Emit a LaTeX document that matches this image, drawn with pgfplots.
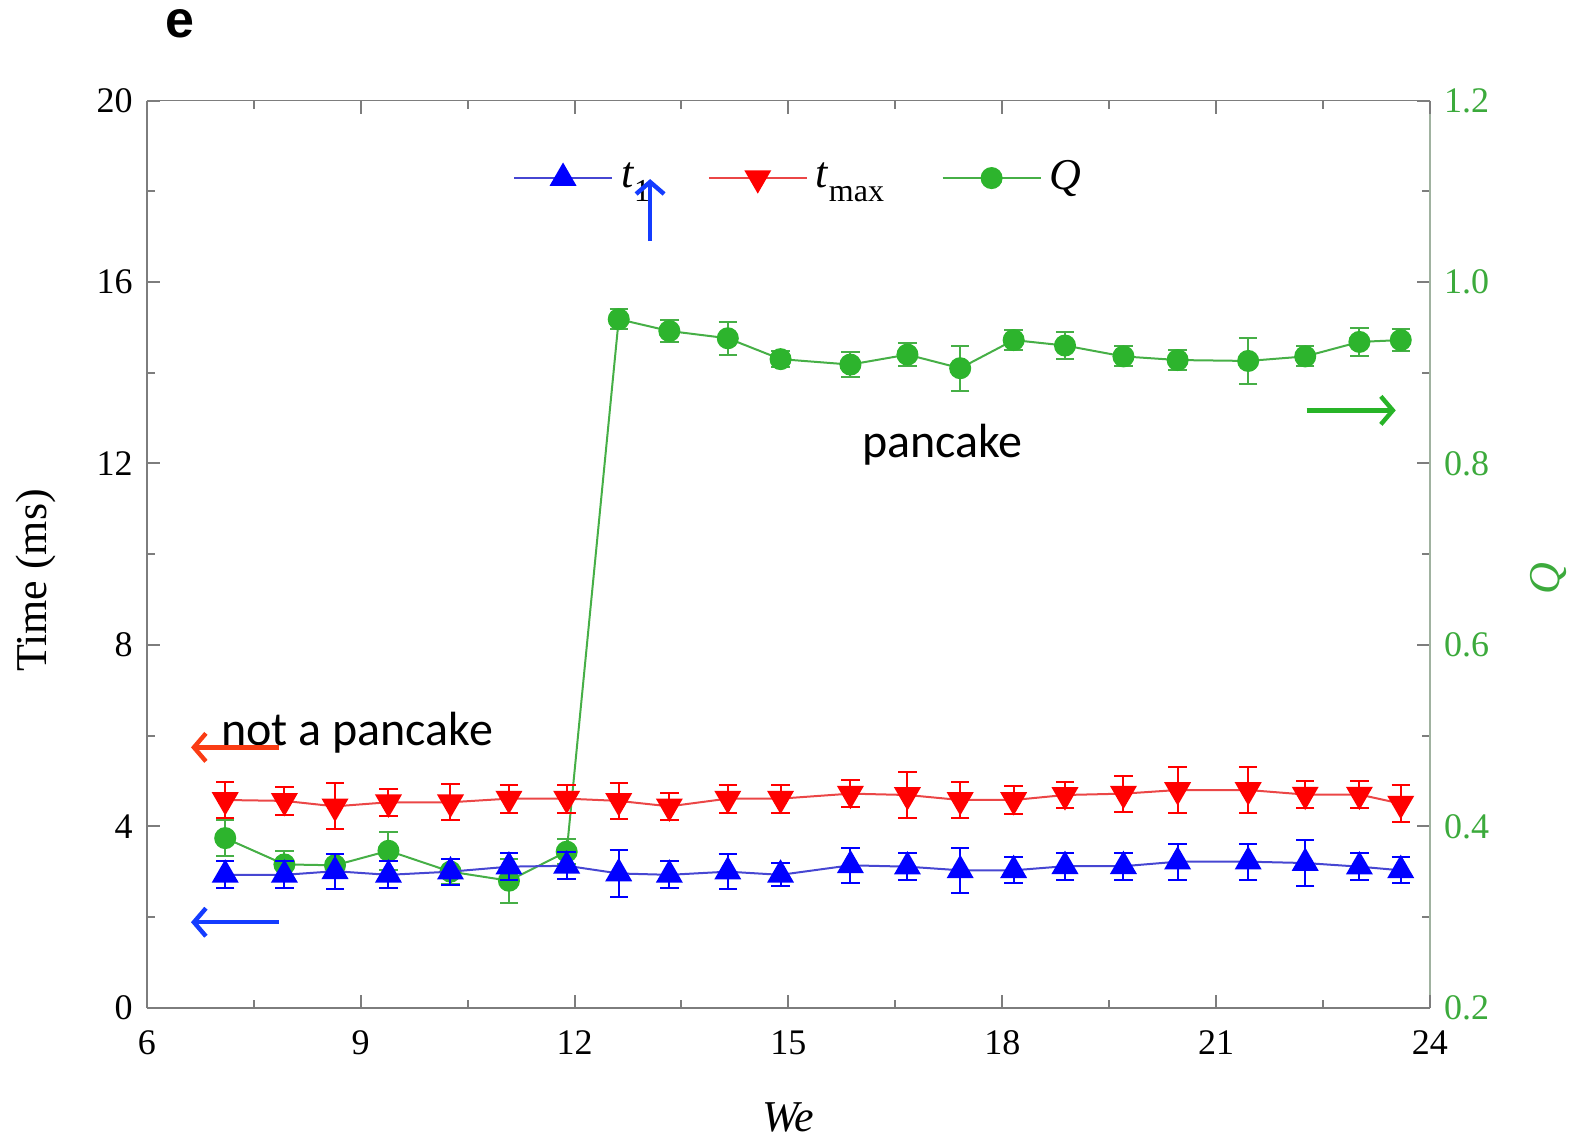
\documentclass[border=0pt]{standalone}
\usepackage{pgfplots}
\pgfplotsset{compat=1.18}
\usepackage{pgfplotstable}
\usepackage{fontspec}
\setmainfont{Liberation Serif}
\newfontfamily\calibri{Carlito}
\newfontfamily\arialfont{Liberation Sans}
\usetikzlibrary{arrows.meta}

\definecolor{tblue}{RGB}{0,0,255}
\definecolor{tblueline}{RGB}{70,70,210}
\definecolor{tred}{RGB}{255,0,0}
\definecolor{tredline}{RGB}{235,70,70}
\definecolor{qgreen}{RGB}{45,180,45}
\definecolor{qline}{RGB}{70,175,70}
\definecolor{qtext}{RGB}{60,170,60}
\definecolor{qframe}{RGB}{160,178,160}
\definecolor{framegray}{RGB}{125,125,125}
\definecolor{annred}{RGB}{250,60,20}
\definecolor{annblue}{RGB}{20,60,255}
\definecolor{anngreen}{RGB}{40,180,40}

% We, t1, error, tmax, error
\pgfplotstableread{
x     t1   t1e  tmax tmaxe
7.10  2.93 0.30 4.58 0.40
7.93  2.93 0.30 4.56 0.30
8.64  3.01 0.39 4.44 0.51
9.39  2.93 0.30 4.53 0.30
10.26 3.00 0.29 4.53 0.40
11.08 3.11 0.30 4.61 0.31
11.89 3.13 0.30 4.61 0.31
12.62 2.96 0.51 4.56 0.40
13.33 2.93 0.30 4.44 0.30
14.15 3.00 0.39 4.61 0.31
14.89 2.93 0.25 4.61 0.31
15.87 3.14 0.39 4.72 0.29
16.67 3.11 0.30 4.69 0.50
17.41 3.03 0.50 4.58 0.40
18.16 3.03 0.29 4.58 0.31
18.88 3.12 0.30 4.69 0.29
19.70 3.12 0.30 4.72 0.40
20.46 3.22 0.40 4.80 0.50
21.45 3.22 0.40 4.80 0.50
22.25 3.19 0.50 4.70 0.29
23.01 3.11 0.30 4.70 0.29
23.59 3.03 0.29 4.50 0.40
}\timedata

% We, Q, error
\pgfplotstableread{
x     q     qe
7.10  0.387 0.020
7.93  0.358 0.015
8.64  0.357 0.012
9.39  0.373 0.021
10.26 0.350 0.014
11.08 0.340 0.024
11.89 0.372 0.014
12.62 0.959 0.011
13.33 0.946 0.012
14.15 0.938 0.018
14.89 0.915 0.009
15.87 0.909 0.014
16.67 0.920 0.013
17.41 0.905 0.025
18.16 0.936 0.011
18.88 0.930 0.015
19.70 0.918 0.011
20.46 0.914 0.011
21.45 0.913 0.025
22.25 0.918 0.011
23.01 0.934 0.015
23.59 0.936 0.012
}\qdata

\begin{document}
\begin{tikzpicture}
\pgfplotsset{
  base/.style={
    scale only axis, width=320.75pt, height=226.75pt,
    xmin=6, xmax=24,
    tick align=inside,
    major tick length=3.3pt, minor tick length=2pt,
    tick label style={font=\fontsize{9}{10}\selectfont},
    /pgf/number format/assume math mode=true,
    label style={font=\fontsize{11}{12}\selectfont},
  },
}

% right axis: Q (drawn first so that the triangles sit on top)
\begin{axis}[
  base,
  ymin=0.2, ymax=1.2,
  axis x line=none, axis y line*=right,
  y axis line style={qframe, -},
  ytick={0.2,0.4,0.6,0.8,1.0,1.2},
  minor y tick num=1,
  every tick/.style={framegray, line width=0.5pt},
  yticklabel style={qtext, /pgf/number format/.cd, fixed, fixed zerofill, precision=1},
  ylabel={\textit{Q}},
  ylabel style={qtext, at={(axis description cs:1.092,0.473)}, anchor=center},
]
\addplot[qline, line width=0.5pt, mark=*, mark size=2.5pt,
  mark options={fill=qgreen, draw=qgreen, solid},
  error bars/.cd, y dir=both, y explicit,
  error bar style={qline, line width=0.5pt},
  error mark options={rotate=90, qline, mark size=2.3pt, line width=0.5pt}]
  table[x=x, y=q, y error=qe] {\qdata};
\end{axis}

% left axis: time
\begin{axis}[
  base,
  ymin=0, ymax=20,
  axis x line*=box, axis y line*=left,
  x axis line style={framegray, -}, y axis line style={framegray, -},
  xtick={6,9,12,15,18,21,24},
  ytick={0,4,8,12,16,20},
  minor x tick num=1, minor y tick num=1,
  xticklabel style={yshift=-2.2pt},
  every tick/.style={framegray, line width=0.5pt},
  xlabel={\textit{We}}, ylabel={Time (ms)},
  xlabel style={at={(axis description cs:0.5,-0.121)}, anchor=center},
  ylabel style={at={(axis description cs:-0.0864,0.471)}, anchor=center},
  legend columns=3,
  legend style={at={(axis description cs:0.510,0.9146)}, anchor=center,
    draw=none, fill=none, font=\fontsize{11}{12}\selectfont,
    /tikz/every even column/.append style={column sep=12.4pt}},
  legend cell align=left,
  legend image code/.code={
    \draw[mark repeat=2, mark phase=2, #1]
      plot coordinates {(0pt,0pt) (12.25pt,0pt) (24.5pt,0pt)};
  },
]
\addplot[tblueline, line width=0.5pt, mark=triangle*, mark size=3.4pt,
  mark options={fill=tblue, draw=tblue, solid},
  error bars/.cd, y dir=both, y explicit,
  error bar style={tblue, line width=0.5pt},
  error mark options={rotate=90, tblue, mark size=2.3pt, line width=0.5pt}]
  table[x=x, y=t1, y error=t1e] {\timedata};
\addlegendentry{\textit{t}\raisebox{-3.5pt}{\fontsize{8}{8}\selectfont 1}}

\addplot[tredline, line width=0.5pt, mark=triangle*, mark size=3.4pt,
  mark options={fill=tred, draw=tred, solid, rotate=180},
  error bars/.cd, y dir=both, y explicit,
  error bar style={tred, line width=0.5pt},
  error mark options={rotate=90, tred, mark size=2.3pt, line width=0.5pt}]
  table[x=x, y=tmax, y error=tmaxe] {\timedata};
\addlegendentry{\textit{t}\raisebox{-3.5pt}{\fontsize{8}{8}\selectfont max}}

\addlegendimage{qline, line width=0.5pt, mark=*, mark size=2.5pt,
  mark options={fill=qgreen, draw=qgreen, solid}}
\addlegendentry{\textit{Q}}

% spots for the notes
\coordinate (redA) at (axis cs:7.85,5.74);
\coordinate (redB) at (axis cs:6.62,5.74);
\coordinate (blueA) at (axis cs:7.85,1.885);
\coordinate (blueB) at (axis cs:6.62,1.885);
\coordinate (greenA) at (axis cs:22.27,13.17);
\coordinate (greenB) at (axis cs:23.52,13.17);
\coordinate (upA) at (axis cs:13.06,16.90);
\coordinate (upB) at (axis cs:13.06,18.27);
\coordinate (pan) at (axis cs:17.16,12.41);
\coordinate (notpan) at (axis cs:8.95,6.07);
\coordinate (elabel) at (axis cs:6.467,21.70);
\end{axis}

\node[font=\calibri\fontsize{12}{14}\selectfont] at (pan) {pancake};
\node[font=\calibri\fontsize{12}{14}\selectfont] at (notpan) {not a pancake};
\node[font=\arialfont\bfseries\fontsize{13}{14}\selectfont] at (elabel) {e};
\draw[annred, line width=1.1pt, -{Straight Barb[length=3pt, width=7pt]}] (redA) -- (redB);
\draw[annblue, line width=1.1pt, -{Straight Barb[length=3pt, width=7pt]}] (blueA) -- (blueB);
\draw[anngreen, line width=1.1pt, -{Straight Barb[length=3pt, width=7pt]}] (greenA) -- (greenB);
\draw[annblue, line width=1.1pt, -{Straight Barb[length=3pt, width=7pt]}] (upA) -- (upB);

\pgfresetboundingbox
\path (-36.7pt,-32.1pt) rectangle (357.5pt,251.9pt);
\end{tikzpicture}
\end{document}
